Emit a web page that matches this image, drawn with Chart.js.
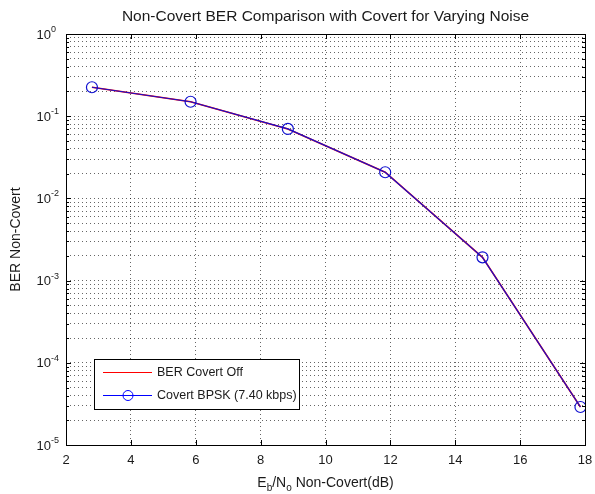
<!DOCTYPE html>
<html>
<head>
<meta charset="utf-8">
<script src="https://cdn.jsdelivr.net/npm/chart.js@4.4.1/dist/chart.umd.min.js"></script>
<style>
  html, body { margin: 0; padding: 0; background: #fff; }
  #wrap { width: 595px; height: 494px; }
</style>
</head>
<body>
<div id="wrap"><canvas id="c" width="595" height="494"></canvas></div>
<script>
// Eb/No of the non-covert link (dB) and measured bit error rates
const ebnoDb = [2.8, 5.84, 8.84, 11.84, 14.84, 17.86];
const berCovertOff = [0.225, 0.150, 0.070, 0.0208, 0.00192, 2.9e-5];
const berCovertBpsk = [0.225, 0.150, 0.070, 0.0208, 0.00192, 2.9e-5];

const seriesNames = ['BER Covert Off', 'Covert BPSK (7.40 kbps)'];
const xTicks = [2, 4, 6, 8, 10, 12, 14, 16, 18];
const yDecades = [0, -1, -2, -3, -4, -5];
const titleText = 'Non-Covert BER Comparison with Covert for Varying Noise';
const yTitleText = 'BER Non-Covert';

const FONT = '"Liberation Sans", Arial, Helvetica, sans-serif';
const TEXT = '#1a1a1a';

// log-axis ticks: 1..9 x 10^k for every decade
function logTicks() {
  const out = [];
  const lo = Math.min(...yDecades), hi = Math.max(...yDecades);
  for (let e = lo; e <= hi; e++) {
    for (let m = 1; m <= 9; m++) {
      if (e === hi && m > 1) break;
      out.push({ value: Number((m * Math.pow(10, e)).toPrecision(3)), major: m === 1 });
    }
  }
  return out;
}

const matlabFrame = {
  id: 'matlabFrame',
  afterDraw(chart) {
    const { ctx, chartArea: a, scales: { x, y } } = chart;
    ctx.save();

    // axes box
    ctx.strokeStyle = '#000';
    ctx.lineWidth = 1;
    ctx.strokeRect(Math.round(a.left) + 0.5, Math.round(a.top) + 0.5,
                   Math.round(a.right - a.left), Math.round(a.bottom - a.top));

    // inward tick marks
    ctx.beginPath();
    xTicks.forEach(v => {
      const px = Math.round(x.getPixelForValue(v)) + 0.5;
      ctx.moveTo(px, a.bottom); ctx.lineTo(px, a.bottom - 5);
      ctx.moveTo(px, a.top); ctx.lineTo(px, a.top + 5);
    });
    y.ticks.forEach(t => {
      const py = Math.round(y.getPixelForValue(t.value)) + 0.5;
      const len = t.major ? 5 : 3;
      ctx.moveTo(a.left, py); ctx.lineTo(a.left + len, py);
      ctx.moveTo(a.right, py); ctx.lineTo(a.right - len, py);
    });
    ctx.stroke();

    ctx.fillStyle = TEXT;

    // x tick labels
    ctx.font = '13px ' + FONT;
    ctx.textAlign = 'center';
    ctx.textBaseline = 'top';
    xTicks.forEach(v => ctx.fillText(String(v), x.getPixelForValue(v), a.bottom + 9));

    // y tick labels 10^k
    yDecades.forEach(d => {
      const py = y.getPixelForValue(Math.pow(10, d));
      ctx.font = '13px ' + FONT;
      ctx.textAlign = 'right';
      ctx.textBaseline = 'middle';
      ctx.fillText('10', a.left - 15, py + 1);
      ctx.font = '9px ' + FONT;
      ctx.textAlign = 'left';
      ctx.textBaseline = 'alphabetic';
      ctx.fillText(d === 0 ? '0' : '-' + Math.abs(d), a.left - 15, py - 2);
    });

    // title
    ctx.font = '15.5px ' + FONT;
    ctx.textAlign = 'center';
    ctx.textBaseline = 'alphabetic';
    ctx.fillText(titleText, (a.left + a.right) / 2, 21);

    // x axis title with subscripts
    const cx = (a.left + a.right) / 2, by = 487;
    const parts = [['E', 0], ['b', 1], ['/N', 0], ['o', 1], [' Non-Covert(dB)', 0]];
    const big = '14px ' + FONT, small = '10px ' + FONT;
    let w = 0;
    parts.forEach(([s, sub]) => { ctx.font = sub ? small : big; w += ctx.measureText(s).width; });
    let px = cx - w / 2;
    ctx.textAlign = 'left';
    parts.forEach(([s, sub]) => {
      ctx.font = sub ? small : big;
      ctx.fillText(s, px, sub ? by + 4 : by);
      px += ctx.measureText(s).width;
    });

    // y axis title
    ctx.save();
    ctx.translate(16, (a.top + a.bottom) / 2);
    ctx.rotate(-Math.PI / 2);
    ctx.font = '14px ' + FONT;
    ctx.textAlign = 'center';
    ctx.textBaseline = 'middle';
    ctx.fillText(yTitleText, 0, 0);
    ctx.restore();

    // legend
    const lx = 94, ly = 359, lw = 205, lh = 50;
    ctx.fillStyle = '#fff';
    ctx.fillRect(lx, ly, lw, lh);
    ctx.strokeStyle = '#000';
    ctx.strokeRect(lx + 0.5, ly + 0.5, lw, lh);
    const rows = [
      { y: ly + 13, color: '#ff0000', marker: false },
      { y: ly + 36, color: '#0000ff', marker: true }
    ];
    rows.forEach((r, i) => {
      ctx.strokeStyle = r.color;
      ctx.lineWidth = 1;
      ctx.beginPath();
      ctx.moveTo(lx + 9, r.y + 0.5); ctx.lineTo(lx + 58, r.y + 0.5);
      ctx.stroke();
      if (r.marker) {
        ctx.beginPath();
        ctx.arc(lx + 34, r.y + 0.5, 5, 0, Math.PI * 2);
        ctx.stroke();
      }
      ctx.fillStyle = TEXT;
      ctx.font = '12.5px ' + FONT;
      ctx.textAlign = 'left';
      ctx.textBaseline = 'middle';
      ctx.fillText(seriesNames[i], lx + 63, r.y + 1);
    });

    ctx.restore();
  }
};

new Chart(document.getElementById('c'), {
  type: 'line',
  data: {
    datasets: [
      {
        label: seriesNames[0],
        data: ebnoDb.map((v, i) => ({ x: v, y: berCovertOff[i] })),
        borderColor: '#ff0000',
        borderWidth: 1.6,
        pointRadius: 0,
        tension: 0,
        order: 2
      },
      {
        label: seriesNames[1],
        data: ebnoDb.map((v, i) => ({ x: v, y: berCovertBpsk[i] })),
        borderColor: '#1010d0',
        borderWidth: 1.2,
        pointStyle: 'circle',
        pointRadius: 5.5,
        pointBorderWidth: 1.2,
        pointBorderColor: '#1010d0',
        pointBackgroundColor: 'rgba(0,0,0,0)',
        tension: 0,
        order: 1
      }
    ]
  },
  options: {
    responsive: false,
    animation: false,
    devicePixelRatio: 1,
    layout: { padding: { left: 66, top: 34, right: 10, bottom: 49 } },
    plugins: {
      legend: { display: false },
      title: { display: false },
      tooltip: { enabled: false }
    },
    scales: {
      x: {
        type: 'linear',
        min: 2,
        max: 18,
        afterBuildTicks: s => { s.ticks = xTicks.map(v => ({ value: v })); },
        ticks: { display: false },
        grid: { drawTicks: false, color: 'rgba(0,0,0,0.6)', lineWidth: 1 },
        border: { display: false, dash: [1, 3] }
      },
      y: {
        type: 'logarithmic',
        min: 1e-5,
        max: 1,
        afterBuildTicks: s => { s.ticks = logTicks(); },
        ticks: { display: false, autoSkip: false },
        grid: { drawTicks: false, color: 'rgba(0,0,0,0.6)', lineWidth: 1 },
        border: { display: false, dash: [1, 3] }
      }
    }
  },
  plugins: [matlabFrame]
});
</script>
</body>
</html>
